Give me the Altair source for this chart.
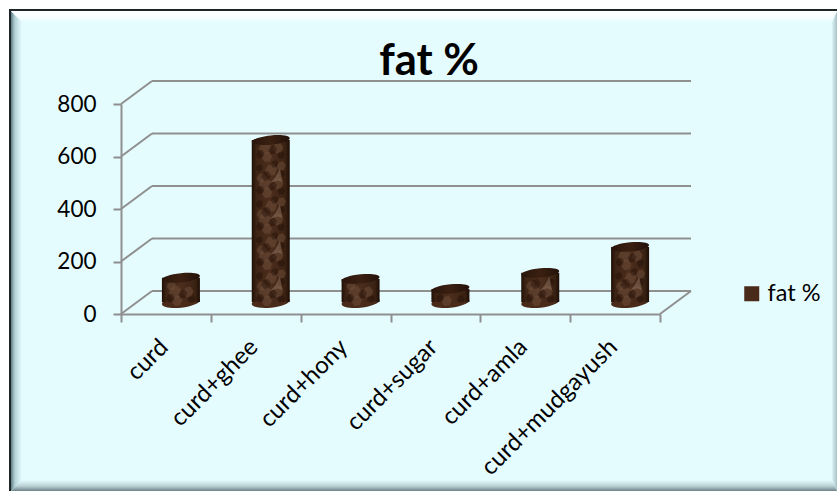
import altair as alt
import pandas as pd

# ---- chart values ----
categories = ["curd", "curd+ghee", "curd+hony", "curd+sugar", "curd+amla", "curd+mudgayush"]
fat_values = [92, 617, 88, 50, 111, 210]
y_ticks = [0, 200, 400, 600, 800]
series_name = "fat %"

FONT = "Lato"
GRID = "#8f8f8f"

# plot geometry and the pseudo-3D depth of the walls and the columns
PW, PH = 539, 210
PAD = {"left": 121, "top": 104, "right": 177, "bottom": 177}
PX_X = 6 / PW          # category units per pixel
PX_Y = 800 / PH        # value units per pixel
WALL_DX, WALL_DY = 31 * PX_X, 23 * PX_Y
COL_DX, COL_BASE = 15 * PX_X, 12 * PX_Y
COL_R = 19 * PX_X

x_scale = alt.Scale(domain=[0, 6], nice=False, zero=False)
y_scale = alt.Scale(domain=[0, 800], nice=False, zero=False)
x_axis = alt.Axis(values=list(range(7)), labels=False, grid=False, tickSize=8, tickWidth=2,
                  tickColor=GRID, domainColor=GRID, domainWidth=2, title=None, zindex=1)
y_axis = alt.Axis(values=y_ticks, grid=False, tickSize=8, tickWidth=2, tickColor=GRID,
                  domainColor=GRID, domainWidth=2, labelFont=FONT, labelFontSize=22.5,
                  labelColor="#000000", labelPadding=17, title=None, zindex=1)
X = lambda f="x": alt.X(f"{f}:Q", scale=x_scale, axis=x_axis)
Y = lambda f="y": alt.Y(f"{f}:Q", scale=y_scale, axis=y_axis)

# ---- panel with bevelled edges ----
def panel_path(points, cx=424, cy=251, r=413):
    body = " L".join(f"{(px - cx) / r:.5f},{(py - cy) / r:.5f}" for px, py in points)
    return f"M{body} Z"

def grad(x2, y2, stops):
    return alt.Gradient(gradient="linear", x1=0, y1=0, x2=x2, y2=y2,
                        stops=[alt.GradientStop(offset=o, color=c) for o, c in stops])

one = alt.Data(values=[{"k": 1}])
PANEL_X, PANEL_Y = 303, 147
PANEL_SIZE = 826 ** 2

def bevel(points, fill):
    return alt.Chart(one).mark_point(shape=panel_path(points), filled=True, fill=fill, opacity=1,
                                     size=PANEL_SIZE, strokeWidth=0).encode(
        x=alt.value(PANEL_X), y=alt.value(PANEL_Y))

panel = alt.Chart(one).mark_rect(color="#e5fcff").encode(
    x=alt.value(-111), x2=alt.value(716), y=alt.value(-93), y2=alt.value(387))
edge_top = alt.Chart(one).mark_rect(color="#1d2526").encode(
    x=alt.value(-112), x2=alt.value(716), y=alt.value(-95), y2=alt.value(-93))
edge_left = alt.Chart(one).mark_rect(color="#1d2526").encode(
    x=alt.value(-112), x2=alt.value(-110), y=alt.value(-95), y2=alt.value(387))
bevels = [
    bevel([(11, 11), (22, 22), (22, 480), (11, 491)],
          grad(1, 0, [(0, "#5f7f84"), (0.35, "#b4d2d6"), (1, "#e5fcff")])),
    bevel([(832, 22), (837, 11), (837, 491), (832, 480)],
          grad(1, 0, [(0, "#dcf3f6"), (1, "#a9c1c6")])),
    bevel([(11, 491), (22, 480), (832, 480), (837, 491)],
          grad(0, 1, [(0, "#e5fcff"), (0.55, "#b9d0d4"), (1, "#6f8488")])),
    bevel([(11, 11), (837, 11), (832, 22), (22, 22)],
          grad(0, 1, [(0, "#ffffff"), (0.6, "#f6feff"), (1, "#e5fcff")])),
]

# ---- back wall and floor lines, which also carry the axes ----
walls = []
for v in y_ticks:
    walls.append({"x": WALL_DX, "x2": 6 + WALL_DX, "y": v + WALL_DY, "y2": v + WALL_DY})
    walls.append({"x": 0, "x2": WALL_DX, "y": v, "y2": v + WALL_DY})
walls.append({"x": 6, "x2": 6 + WALL_DX, "y": 0, "y2": WALL_DY})
wall_lines = alt.Chart(pd.DataFrame(walls)).mark_rule(color=GRID, strokeWidth=2, clip=False).encode(
    x=X("x"), x2="x2:Q", y=Y("y"), y2="y2:Q")

# ---- columns ----
rows = []
for i, (c, v) in enumerate(zip(categories, fat_values)):
    cx = i + 0.5 + COL_DX
    rows.append({"cat": c, "cx": cx, "left": cx - COL_R, "right": cx + COL_R,
                 "base": COL_BASE, "top": COL_BASE + v, "series": series_name})
cols = pd.DataFrame(rows)

ELLIPSE = "M-1,0.1 A1,0.3 -6 1 1 1,-0.1 A1,0.3 -6 1 1 -1,0.1 Z"
TOP_ELLIPSE = "M-1,0.1 A1,0.24 -6 1 1 1,-0.1 A1,0.24 -6 1 1 -1,0.1 Z"
COL_SIZE = 38 ** 2

bottoms = alt.Chart(cols).mark_point(shape=ELLIPSE, filled=True, opacity=1, size=COL_SIZE, strokeWidth=0).encode(
    x=X("cx"), y=Y("base"),
    color=alt.Color("series:N", scale=alt.Scale(range=["#4a2a18"]),
                    legend=alt.Legend(orient="none", legendX=619, legendY=178, title=None,
                                      symbolType="square", symbolSize=225, symbolStrokeWidth=0,
                                      labelFont=FONT, labelFontSize=23.5, labelColor="#000000",
                                      labelOffset=4)))
bodies = alt.Chart(cols).mark_rect(
    fill=grad(1, 0, [(0, "#1f0f07"), (0.12, "#3e2414"), (0.5, "#4c2e1d"), (0.88, "#3a2212"), (1, "#1c0d06")]),
    clip=False).encode(x=X("left"), x2="right:Q", y=Y("base"), y2="top:Q")

# repeating mottled texture on the column walls: (across, up in px, size)
TILE_H = 36
tile_dark = [(-0.55, 6, 70), (0.1, 10, 80), (0.55, 5, 60), (-0.25, 20, 100), (0.55, 22, 60), (-0.6, 28, 60), (0.2, 32, 60)]
tile_mid = [(-0.3, 12, 170), (0.38, 12, 120), (-0.5, 18, 90), (0.02, 26, 150), (0.55, 30, 90), (-0.2, 3, 110)]
tile_light = [(0.3, 20, 190)]

def tile_points(tile):
    pts = []
    for _, r in cols.iterrows():
        span = (r["top"] - r["base"]) / PX_Y
        n = 0
        while n * TILE_H < span:
            for fx, up, size in tile:
                py = n * TILE_H + up - 2
                if py < span - 7:
                    pts.append({"x": r["cx"] + fx * COL_R, "y": r["base"] + py * PX_Y, "s": size})
            n += 1
    return pd.DataFrame(pts)

BLOB = "M-1,0.1 L-0.5,-0.8 L0.4,-1 L1,-0.2 L0.6,0.8 L-0.4,1 Z"
WEDGE = "M-0.9,1 L-0.2,0.2 L0.5,-1 L0.9,0.9 L0.2,0.6 Z"
texture = [
    alt.Chart(tile_points(tile_mid)).mark_point(shape=BLOB, filled=True, color="#70503c", opacity=0.5, strokeWidth=0).encode(
        x=X(), y=Y(), size=alt.Size("s:Q", scale=None, legend=None)),
    alt.Chart(tile_points(tile_dark)).mark_point(shape=BLOB, filled=True, color="#1d0d05", opacity=0.4, strokeWidth=0).encode(
        x=X(), y=Y(), size=alt.Size("s:Q", scale=None, legend=None)),
    alt.Chart(tile_points(tile_light)).mark_point(shape=WEDGE, filled=True, color="#8a6a58", opacity=0.6, strokeWidth=0).encode(
        x=X(), y=Y(), size=alt.Size("s:Q", scale=None, legend=None)),
]
tops = alt.Chart(cols).mark_point(shape=TOP_ELLIPSE, filled=True, opacity=1, size=COL_SIZE, strokeWidth=0,
                                  fill=grad(1, 0, [(0, "#2a150b"), (0.5, "#3a2011"), (1, "#24110a")])).encode(
    x=X("cx"), y=Y("top"))

# ---- category labels and heading ----
label_df = pd.DataFrame({"cat": categories, "x": [i + 0.5 for i in range(6)], "y": [0] * 6})
cat_labels = alt.Chart(label_df).mark_text(font=FONT, fontSize=24, color="#000000", angle=315,
                                           align="right", baseline="middle", dx=-22, dy=20).encode(
    x=X("x"), y=Y("y"), text="cat:N")
heading = alt.Chart(pd.DataFrame({"t": [series_name]})).mark_text(
    font=FONT, fontSize=43.5, fontWeight="bold", color="#000000", align="center", baseline="alphabetic").encode(
    x=alt.value(308), y=alt.value(-29), text="t:N")

chart = alt.layer(panel, edge_top, edge_left, *bevels, wall_lines,
                  bottoms, bodies, *texture, tops, cat_labels, heading).properties(
    width=PW, height=PH, padding=PAD,
    background="#ffffff",
    autosize=alt.AutoSizeParams(type="none"),
).configure_view(stroke=None)

chart.save("out.html", embed_options={"renderer": "svg", "actions": False})
